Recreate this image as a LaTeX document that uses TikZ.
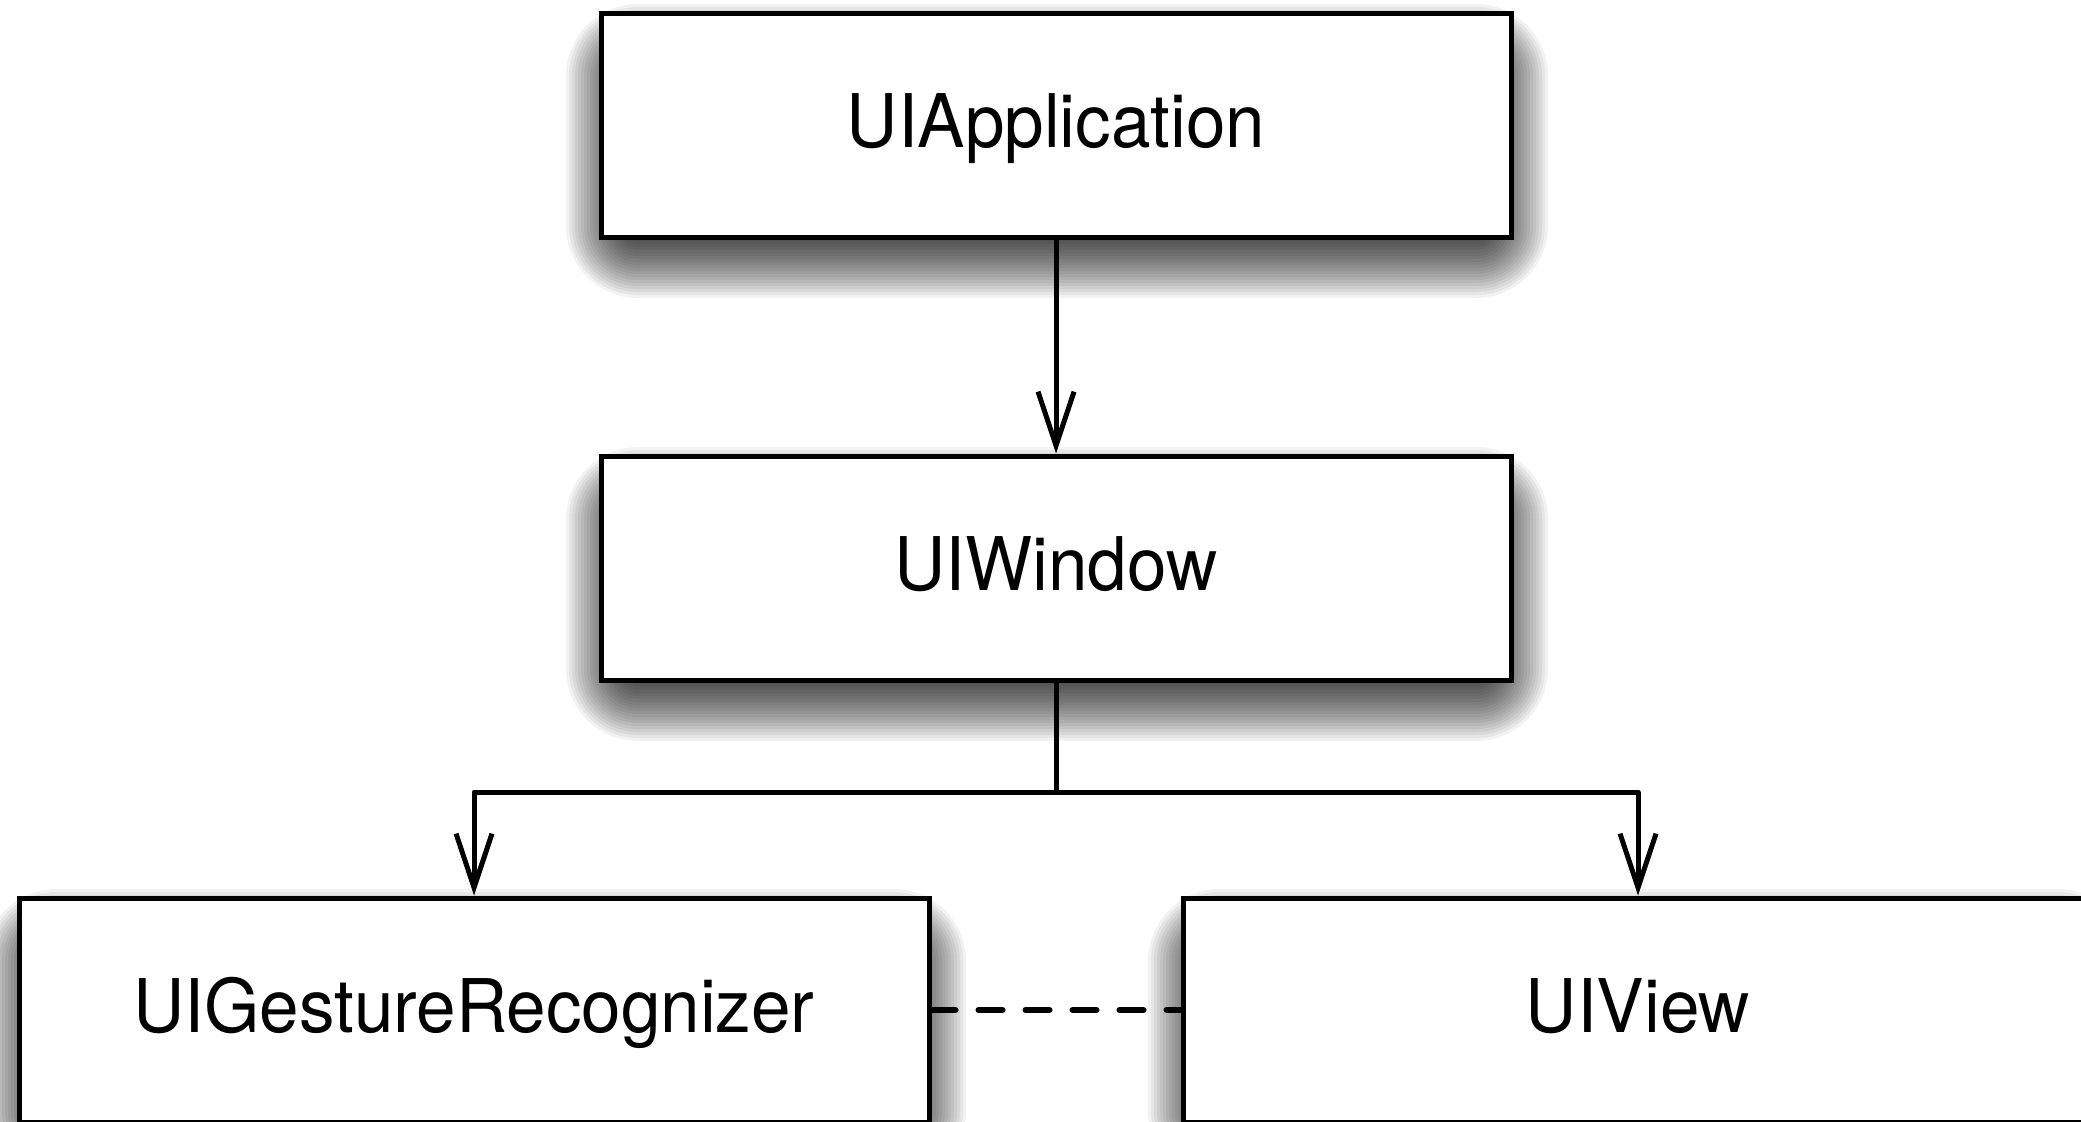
\documentclass[tikz,border=0pt]{standalone}
\usepackage{fontspec}
\setmainfont{TeX Gyre Heros}[FakeStretch=0.96]
\usetikzlibrary{arrows.meta,calc}
\newcommand\myshadow[1]{%
  \foreach \i in {0,...,23}{%
    \pgfmathsetmacro\ee{-34+\i*3}%
    \pgfmathsetmacro\rr{(\i+1)*1.5}%
    \fill[black, opacity=0.05, rounded corners=\rr pt]
      ($(#1)+(-455-\ee,-112+26-\ee)$) rectangle ($(#1)+(455+\ee+2,112+26+\ee)$);
  }}
\begin{document}
\begin{tikzpicture}[x=0.5pt,y=-0.5pt,
  box/.style={draw=black, line width=2.5pt, fill=white, rectangle,
    minimum width=455pt, minimum height=112pt, inner sep=0pt,
    text height=30pt, text depth=7.4pt,
    font=\fontsize{37pt}{42pt}\selectfont},
  conn/.style={line width=2.5pt, line join=round},
  arr/.style={conn, -{Straight Barb[length=27pt,width=18pt,line width=2.5pt]}},
  dashconn/.style={line width=3pt, dash pattern=on 12pt off 11.5pt, line cap=round}]
\fill[white] (0,0) rectangle (2081,1121);
\clip (0,0) rectangle (2081,1121);
\useasboundingbox (0,0) rectangle (2081,1121);
\coordinate (capp) at (1056,125);
\coordinate (cwin) at (1056,568);
\coordinate (cges) at (474,1010);
\coordinate (cview) at (1638,1010);
\myshadow{capp}
\myshadow{cwin}
\myshadow{cges}
\myshadow{cview}
\node[box] (app) at (capp) {UIApplication};
\node[box] (win) at (cwin) {UIWindow};
\node[box] (ges) at (cges) {UIGestureRecognizer};
\node[box] (view) at (cview) {UIView};
\coordinate (junc) at (1056,792);
\draw[arr] (app.south) -- (win.north);
\draw[arr] (win.south) -- (junc) -| (ges.north);
\draw[arr] (win.south) -- (junc) -| (view.north);
\draw[dashconn] (ges.east) -- (view.west);
\end{tikzpicture}
\end{document}
